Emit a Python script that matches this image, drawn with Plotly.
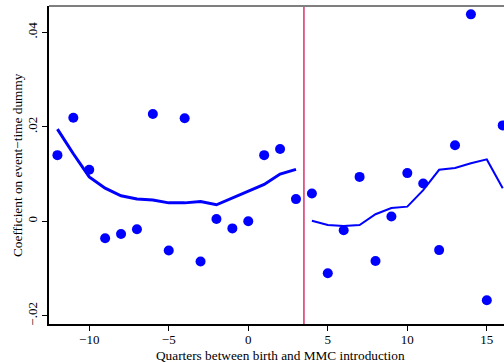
import plotly.graph_objects as go

quarters = list(range(-12, 17))
coef = [0.0140, 0.0219, 0.0109, -0.0036, -0.0027, -0.0017, 0.0227, -0.0062, 0.0218, -0.0085,
        0.0005, -0.0015, 0.0000, 0.0140, 0.0153, 0.0047, 0.0059, -0.0110, -0.0019, 0.0094,
        -0.0084, 0.0010, 0.0102, 0.0080, -0.0061, 0.0161, 0.0438, -0.0167, 0.0203]

pre_x = list(range(-12, 4))
pre_fit = [0.0195, 0.0143, 0.0094, 0.0070, 0.0054, 0.0047, 0.0045, 0.0039, 0.0039, 0.0042,
           0.0035, 0.0049, 0.0063, 0.0078, 0.0100, 0.0110]
post_x = list(range(4, 17))
post_fit = [0.0001, -0.0008, -0.0010, -0.0008, 0.0015, 0.0028, 0.0031, 0.0066, 0.0109,
            0.0113, 0.0123, 0.0131, 0.0070]

xticks = [-10, -5, 0, 5, 10, 15]
yticks = [-0.02, 0, 0.02, 0.04]
yticklabels = ["\u2212.02", "0", ".02", ".04"]
cutoff = 3.5
x_title = "Quarters between birth and MMC introduction"
y_title = "Coefficient on event\u2212time dummy"

blue = "#0000ff"
font = "Liberation Serif"

fig = go.Figure()
fig.add_trace(go.Scatter(x=pre_x, y=pre_fit, mode="lines",
                         line=dict(color=blue, width=3), hoverinfo="skip"))
fig.add_trace(go.Scatter(x=post_x, y=post_fit, mode="lines",
                         line=dict(color=blue, width=2), hoverinfo="skip"))
fig.add_trace(go.Scatter(x=quarters, y=coef, mode="markers",
                         marker=dict(color=blue, size=10, line=dict(width=0))))

fig.add_shape(type="line", xref="x", yref="paper", x0=cutoff, x1=cutoff, y0=0, y1=1,
              line=dict(color="#d9336a", width=1.5))
fig.add_shape(type="line", xref="paper", yref="paper", x0=0, x1=1, y0=1, y1=1,
              line=dict(color="#7f7f7f", width=2))

fig.add_annotation(text=x_title, xref="paper", yref="paper", x=(280 - 49) / 455,
                   y=-(355.5 - 324) / 318, xanchor="center", yanchor="middle",
                   showarrow=False, font=dict(family=font, size=13.3, color="black"))
fig.add_annotation(text=y_title, xref="paper", yref="paper", x=(17 - 49) / 455,
                   y=0.5, xanchor="center", yanchor="middle", textangle=-90,
                   showarrow=False, font=dict(family=font, size=13.3, color="black"))

fig.update_layout(
    width=504, height=362,
    margin=dict(l=49, r=0, t=6, b=38),
    paper_bgcolor="white", plot_bgcolor="white",
    showlegend=False,
    font=dict(family=font, size=13, color="black"),
    xaxis=dict(range=[-12.53, 16.08], tickvals=xticks, ticks="outside", ticklen=5,
               tickwidth=1.2, tickcolor="black", showline=True, linecolor="black",
               linewidth=1.5, showgrid=False, zeroline=False, ticklabelstandoff=-2,
               tickfont=dict(family=font, size=13)),
    yaxis=dict(range=[-0.02174, 0.04557], tickvals=yticks, ticktext=yticklabels,
               ticks="outside", ticklen=5, tickwidth=1.2, tickcolor="black",
               showline=True, linecolor="black", linewidth=1.5, showgrid=False,
               zeroline=False, tickangle=-90,
               tickfont=dict(family=font, size=13)),
)

fig.write_html("out.html")
